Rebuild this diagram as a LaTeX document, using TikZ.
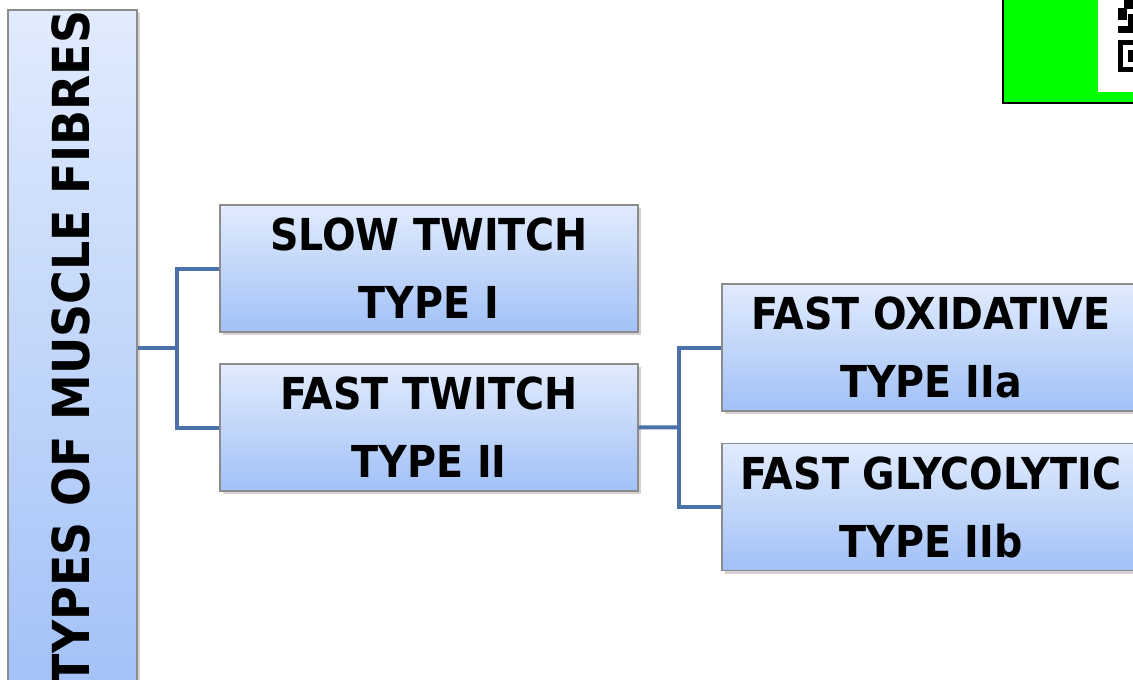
\documentclass[tikz,border=0pt]{standalone}
\usepackage{fontspec}
\setmainfont{DejaVu Sans Condensed}
\usetikzlibrary{calc,shadows}
\definecolor{BoxTop}{HTML}{E1EBFD}
\definecolor{BoxBottom}{HTML}{A2C1F7}
\definecolor{BoxEdge}{HTML}{8C8C8C}
\definecolor{LinkBlue}{HTML}{4A72A9}
\definecolor{TagGreen}{HTML}{00FF00}

\tikzset{
  fibrebox/.style={rectangle, draw=BoxEdge, line width=.6pt,
    top color=BoxTop, bottom color=BoxBottom,
    drop shadow={shadow xshift=1.5pt, shadow yshift=-1.5pt, opacity=.35},
    minimum width=209pt, minimum height=63.5pt, inner sep=0pt,
    align=center, font=\bfseries\fontsize{22}{34}\selectfont},
  link/.style={draw=LinkBlue, line width=2pt}
}

\begin{document}
\begin{tikzpicture}[x=0.5pt, y=-0.5pt]
  \useasboundingbox (0,0) rectangle (1133,679);
  \clip (0,0) rectangle (1133,679);

  % title bar on the left
  \node[fibrebox, minimum width=64.5pt, minimum height=345pt] (title) at (72.5,355) {};
  \node[rotate=90, font=\bfseries\fontsize{25.5}{25.5}\selectfont] (titletext) at (71,348)
    {TYPES OF MUSCLE FIBRES};

  % fibre types
  \node[fibrebox] (slow) at (429,268.5) {SLOW TWITCH\\TYPE I};
  \node[fibrebox] (fast) at (429,427.5) {FAST TWITCH\\TYPE II};
  \node[fibrebox] (oxid) at (931,347.5) {FAST OXIDATIVE\\TYPE IIa};
  \node[fibrebox] (glyco) at (931,507) {FAST GLYCOLYTIC\\TYPE IIb};

  % brackets
  \coordinate (j1) at ($(slow.west)!.5!(fast.west)+(-42,0)$);
  \path[link] (slow.west) -- ++(-42,0) |- (fast.west);
  \path[link] (title.east |- j1) -- (j1);
  \coordinate (j2) at ($(oxid.west)!.5!(glyco.west)+(-42,0)$);
  \path[link] (oxid.west) -- ++(-42,0) |- (glyco.west);
  \path[link] (fast.east) -- (j2);

  % tag in the corner
  \draw[fill=TagGreen, line width=1.2pt] (1003,-5) rectangle (1145,103);
  \fill[white] (1098,-5) rectangle (1145,92);
  \fill[black] (1118,40) rectangle (1140,72);
  \fill[white] (1123,45) rectangle (1140,67);
  \fill[black] (1128,50) rectangle (1140,62);
  \fill[black] (1118,8) rectangle (1127,20);
  \fill[black] (1124,0) rectangle (1133,9);
  \fill[black] (1118,26) rectangle (1133,33);
  \fill[black] (1128,14) rectangle (1133,26);
\end{tikzpicture}
\end{document}
